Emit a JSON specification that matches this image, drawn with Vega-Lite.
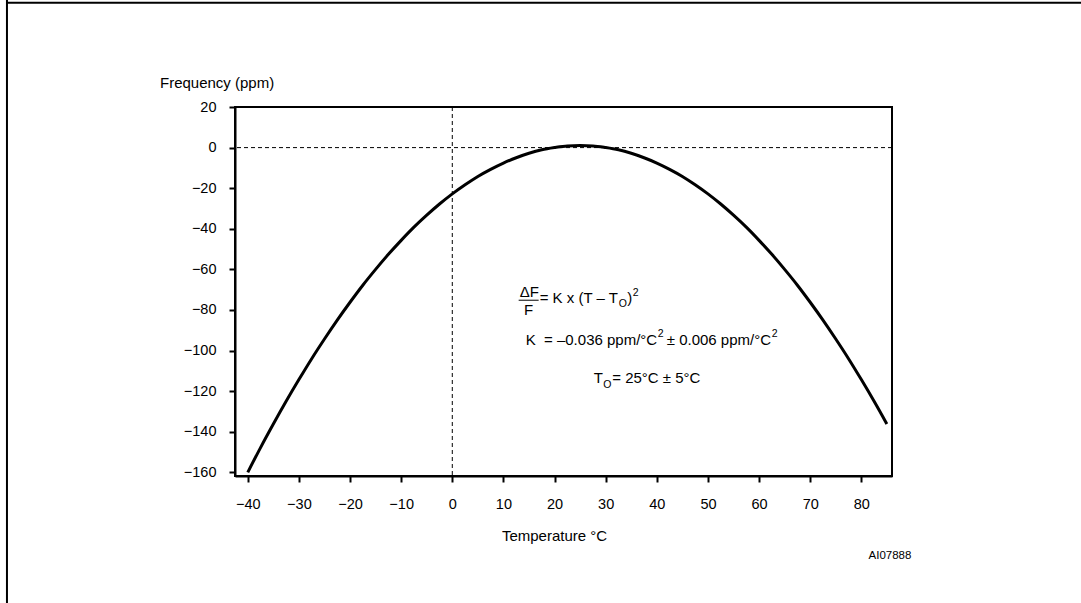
{
  "$schema": "https://vega.github.io/schema/vega-lite/v6.json",
  "width": 657,
  "height": 369,
  "autosize": {"type": "none"},
  "padding": {"left": 235, "top": 107, "right": 189, "bottom": 127},
  "background": "white",
  "config": {
    "font": "Liberation Sans",
    "view": {"stroke": "black", "strokeWidth": 2},
    "axis": {
      "grid": false,
      "domainColor": "black",
      "domainWidth": 2,
      "tickColor": "black",
      "tickWidth": 2,
      "tickSize": 6,
      "labelFont": "Liberation Sans",
      "labelFontSize": 14.5,
      "labelColor": "black",
      "titleFont": "Liberation Sans",
      "titleFontSize": 15,
      "titleFontWeight": "normal",
      "titleColor": "black",
      "labelFlush": false,
      "labelBound": false,
      "labelOverlap": false
    }
  },
  "datasets": {
    "curve": [
      {"T": -40, "F": -160.0}, {"T": -37.5, "F": -147.8}, {"T": -35, "F": -136.2}, {"T": -32.5, "F": -125.0},
      {"T": -30, "F": -114.3}, {"T": -27.5, "F": -104.0}, {"T": -25, "F": -94.3}, {"T": -22.5, "F": -85.0},
      {"T": -20, "F": -76.2}, {"T": -17.5, "F": -67.8}, {"T": -15, "F": -60.0}, {"T": -12.5, "F": -52.6},
      {"T": -10, "F": -45.7}, {"T": -7.5, "F": -39.2}, {"T": -5, "F": -33.3}, {"T": -2.5, "F": -27.8},
      {"T": 0, "F": -22.8}, {"T": 2.5, "F": -18.3}, {"T": 5, "F": -14.2}, {"T": 7.5, "F": -10.7},
      {"T": 10, "F": -7.6}, {"T": 12.5, "F": -5.0}, {"T": 15, "F": -2.8}, {"T": 17.5, "F": -1.1},
      {"T": 20, "F": 0.0}, {"T": 22.5, "F": 0.8}, {"T": 25, "F": 1.0}, {"T": 27.5, "F": 0.8},
      {"T": 30, "F": 0.0}, {"T": 32.5, "F": -1.1}, {"T": 35, "F": -2.8}, {"T": 37.5, "F": -5.0},
      {"T": 40, "F": -7.6}, {"T": 42.5, "F": -10.7}, {"T": 45, "F": -14.2}, {"T": 47.5, "F": -18.3},
      {"T": 50, "F": -22.8}, {"T": 52.5, "F": -27.8}, {"T": 55, "F": -33.3}, {"T": 57.5, "F": -39.2},
      {"T": 60, "F": -45.7}, {"T": 62.5, "F": -52.6}, {"T": 65, "F": -60.0}, {"T": 67.5, "F": -67.8},
      {"T": 70, "F": -76.2}, {"T": 72.5, "F": -85.0}, {"T": 75, "F": -94.3}, {"T": 77.5, "F": -104.0},
      {"T": 80, "F": -114.3}, {"T": 82.5, "F": -125.0}, {"T": 85, "F": -136.2}
    ],
    "ref": [
      {"T": 0, "F": 0}
    ],
    "frame": [
      {"T": -87.1, "F": 71.4, "T2": 135, "F2": 71.4},
      {"T": -87.1, "F": 75, "T2": -87.1, "F2": -250}
    ],
    "bar": [
      {"T": 12.98, "F": -75.2, "T2": 16.89, "F2": -75.2}
    ],
    "formula": [
      {"T": 13.18, "F": -73.7, "text": "ΔF"},
      {"T": 14.04, "F": -82.6, "text": "F"},
      {"T": 17.09, "F": -76.8, "text": "= K x (T – T"},
      {"T": 34.21, "F": -76.8, "text": ")"},
      {"T": 14.35, "F": -97.3, "text": "K\u00a0 = –0.036 ppm/°C"},
      {"T": 41.94, "F": -97.3, "text": "± 0.006 ppm/°C"},
      {"T": 27.66, "F": -116.2, "text": "T"},
      {"T": 31.28, "F": -116.2, "text": "= 25°C ± 5°C"}
    ],
    "scripts": [
      {"T": 32.55, "F": -78.4, "text": "O"},
      {"T": 35.29, "F": -73.2, "text": "2"},
      {"T": 40.18, "F": -93.4, "text": "2"},
      {"T": 62.49, "F": -93.4, "text": "2"},
      {"T": 29.52, "F": -118.5, "text": "O"}
    ],
    "tag": [
      {"T": 89.8, "F": -202.8, "text": "AI07888"}
    ]
  },
  "layer": [
    {
      "data": {"name": "curve"},
      "mark": {"type": "line", "color": "black", "strokeWidth": 3, "interpolate": "monotone", "clip": true},
      "encoding": {
        "x": {
          "field": "T", "type": "quantitative", "title": "Temperature °C",
          "scale": {"domain": [-42.5, 86], "nice": false, "zero": false},
          "axis": {
            "values": [-40, -35, -30, -25, -20, -15, -10, -5, 0, 5, 10, 15, 20, 25, 30, 35, 40, 45, 50, 55, 60, 65, 70, 75, 80, 85],
            "labelExpr": "datum.value % 10 === 0 ? datum.label : ''",
            "labelBaseline": "alphabetic",
            "labelPadding": 26,
            "titleX": 319,
            "titleY": 64,
            "titleAlign": "center",
            "titleBaseline": "alphabetic"
          }
        },
        "y": {
          "field": "F", "type": "quantitative", "title": "Frequency (ppm)",
          "scale": {"domain": [-161.8, 20], "nice": false, "zero": false},
          "axis": {
            "values": [-160, -150, -140, -130, -120, -110, -100, -90, -80, -70, -60, -50, -40, -30, -20, -10, 0, 10, 20],
            "labelExpr": "datum.value % 20 === 0 ? datum.label : ''",
            "labelPadding": 13,
            "titleAngle": 0,
            "titleX": -75.5,
            "titleY": -19.4,
            "titleAlign": "left",
            "titleBaseline": "alphabetic"
          }
        }
      }
    },
    {
      "data": {"name": "ref"},
      "mark": {"type": "rule", "color": "black", "strokeWidth": 1, "strokeDash": [4, 3]},
      "encoding": {"y": {"field": "F", "type": "quantitative", "title": "Frequency (ppm)"}}
    },
    {
      "data": {"name": "ref"},
      "mark": {"type": "rule", "color": "black", "strokeWidth": 1, "strokeDash": [4, 3]},
      "encoding": {"x": {"field": "T", "type": "quantitative", "title": "Temperature °C"}}
    },
    {
      "data": {"name": "frame"},
      "mark": {"type": "rule", "color": "black", "strokeWidth": 2, "clip": false},
      "encoding": {
        "x": {"field": "T", "type": "quantitative", "title": "Temperature °C"},
        "x2": {"field": "T2"},
        "y": {"field": "F", "type": "quantitative", "title": "Frequency (ppm)"},
        "y2": {"field": "F2"}
      }
    },
    {
      "data": {"name": "bar"},
      "mark": {"type": "rule", "color": "black", "strokeWidth": 1},
      "encoding": {
        "x": {"field": "T", "type": "quantitative", "title": "Temperature °C"},
        "x2": {"field": "T2"},
        "y": {"field": "F", "type": "quantitative", "title": "Frequency (ppm)"},
        "y2": {"field": "F2"}
      }
    },
    {
      "data": {"name": "formula"},
      "mark": {"type": "text", "align": "left", "baseline": "alphabetic", "fontSize": 15, "font": "Liberation Sans", "color": "black"},
      "encoding": {
        "x": {"field": "T", "type": "quantitative", "title": "Temperature °C"},
        "y": {"field": "F", "type": "quantitative", "title": "Frequency (ppm)"},
        "text": {"field": "text"}
      }
    },
    {
      "data": {"name": "scripts"},
      "mark": {"type": "text", "align": "left", "baseline": "alphabetic", "fontSize": 10.5, "font": "Liberation Sans", "color": "black"},
      "encoding": {
        "x": {"field": "T", "type": "quantitative", "title": "Temperature °C"},
        "y": {"field": "F", "type": "quantitative", "title": "Frequency (ppm)"},
        "text": {"field": "text"}
      }
    },
    {
      "data": {"name": "tag"},
      "mark": {"type": "text", "align": "right", "baseline": "alphabetic", "fontSize": 11.5, "font": "Liberation Sans", "color": "black", "clip": false},
      "encoding": {
        "x": {"field": "T", "type": "quantitative", "title": "Temperature °C"},
        "y": {"field": "F", "type": "quantitative", "title": "Frequency (ppm)"},
        "text": {"field": "text"}
      }
    }
  ]
}
